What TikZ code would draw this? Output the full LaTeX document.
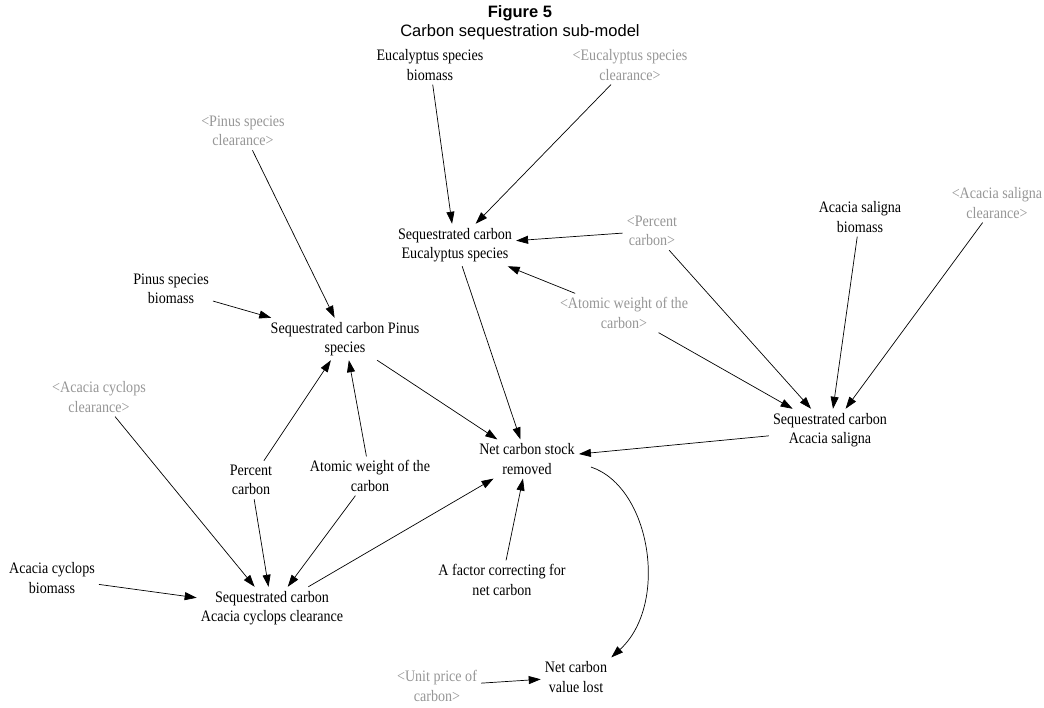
\documentclass[tikz,border=0pt]{standalone}
\usepackage{fontspec}
\setmainfont{Liberation Serif}[FakeStretch=0.88]
\newfontfamily\titlefont{Liberation Sans}
\usetikzlibrary{arrows.meta}
\definecolor{shadowgray}{RGB}{150,150,150}

\begin{document}
\begin{tikzpicture}[x=1pt, y=-1pt,
    var/.style={align=center, inner sep=4pt, font=\fontsize{16}{19.5}\selectfont},
    shadow/.style={var, text=shadowgray},
    link/.style={-{Triangle[length=12pt,width=8pt]}, line width=0.7pt}]
    \useasboundingbox (0,0) rectangle (1044,707);

    % draw title
    \node[align=center, font=\titlefont\fontsize{16.5}{19}\selectfont] (title) at (520,23)
      {\textbf{Figure 5}\\Carbon sequestration sub-model};

    % draw variables
    \node[var] (eucbio) at (430,65) {Eucalyptus species\\biomass};
    \node[shadow] (eucclr) at (630,65) {<Eucalyptus species\\clearance>};
    \node[shadow] (pinclr) at (243,131) {<Pinus species\\clearance>};
    \node[var] (seqeuc) at (455,245) {Sequestrated carbon\\Eucalyptus species};
    \node[shadow] (pctg) at (652,231) {<Percent\\carbon>};
    \node[var] (salbio) at (860,217) {Acacia saligna\\biomass};
    \node[shadow] (salclr) at (997,203) {<Acacia saligna\\clearance>};
    \node[var] (pinbio) at (171,289) {Pinus species\\biomass};
    \node[var] (seqpin) at (345,339) {Sequestrated carbon Pinus\\species};
    \node[shadow] (atomg) at (624,313) {<Atomic weight of the\\carbon>};
    \node[var] (seqsal) at (830,430) {Sequestrated carbon\\Acacia saligna};
    \node[shadow] (acclr) at (99,397) {<Acacia cyclops\\clearance>};
    \node[var] (pct) at (251,480) {Percent\\carbon};
    \node[var] (atom) at (370,476) {Atomic weight of the\\carbon};
    \node[var] (netstock) at (527,459) {Net carbon stock\\removed};
    \node[var] (factor) at (502,580) {A factor correcting for\\net carbon};
    \node[var] (acbio) at (52,578) {Acacia cyclops\\biomass};
    \node[var] (seqac) at (272,608) {Sequestrated carbon\\Acacia cyclops clearance};
    \node[var] (netvalue) at (576,677) {Net carbon\\value lost};
    \node[shadow] (unitg) at (437,686) {<Unit price of\\carbon>};

    % draw links
    \foreach \a/\b in {eucbio/seqeuc, eucclr/seqeuc, pctg/seqeuc, atomg/seqeuc,
        pinclr/seqpin, pinbio/seqpin, pct/seqpin, atom/seqpin,
        pctg/seqsal, salbio/seqsal, salclr/seqsal, atomg/seqsal,
        acclr/seqac, pct/seqac, atom/seqac, acbio/seqac,
        seqeuc/netstock, seqpin/netstock, seqsal/netstock, seqac/netstock,
        factor/netstock, unitg/netvalue}
      \draw[link] (\a) -- (\b);

    % draw curved link
    \draw[link] ([xshift=12pt,yshift=-8pt]netstock.east)
      .. controls +(60,20) and +(58,-53) .. (netvalue.north east);
\end{tikzpicture}
\end{document}
